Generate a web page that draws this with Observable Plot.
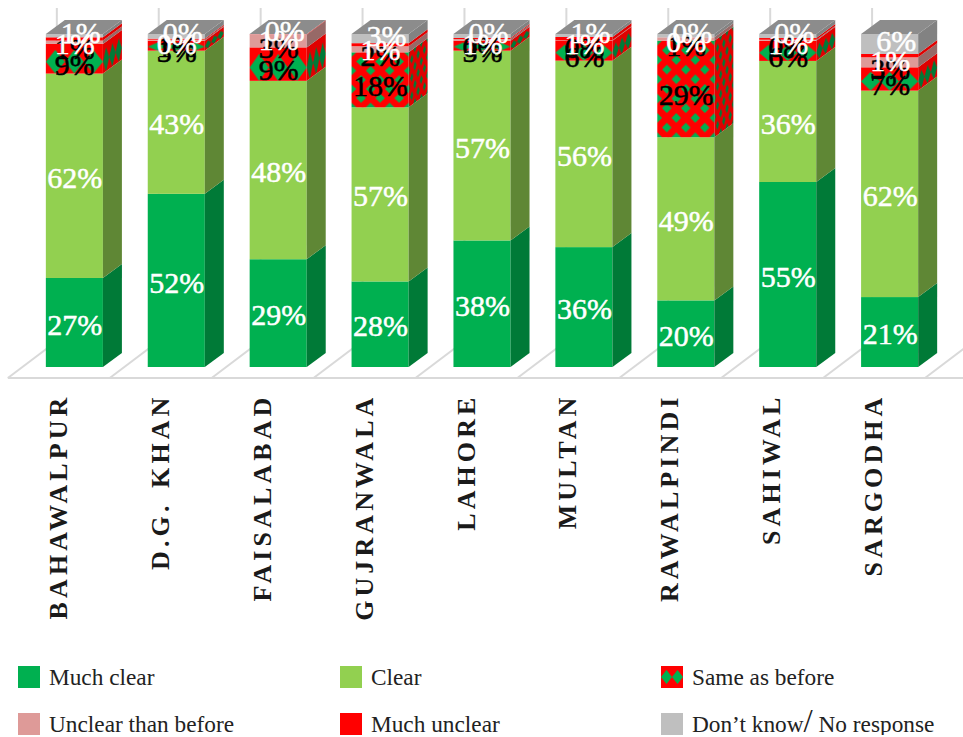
<!DOCTYPE html>
<html>
<head>
<meta charset="utf-8">
<script src="https://cdn.jsdelivr.net/npm/d3@7"></script>
<script src="https://cdn.jsdelivr.net/npm/@observablehq/plot@0.6"></script>
<style>
html,body{margin:0;padding:0;background:#fff;overflow:hidden}
svg{display:block}
#legend{display:grid;grid-template-columns:322px 321px 300px;grid-auto-rows:22px;row-gap:25px;margin:16px 0 0 18px;font:23.3px "Liberation Serif",serif;color:#222}
#legend div{display:flex;align-items:center;white-space:nowrap}
#legend svg{margin-right:9px;flex:none}
#legend .slash{font-size:33px;line-height:0;font-weight:normal}
</style>
</head>
<body>
<div id="chart"></div>
<div id="legend"></div>
<script>
const cities = ["BAHAWALPUR","D.G. KHAN","FAISALABAD","GUJRANWALA","LAHORE","MULTAN","RAWALPINDI","SAHIWAL","SARGODHA"];
const seriesNames = ["Much clear","Clear","Same as before","Unclear than before","Much unclear","Don’t know/ No response"];
const muchClear   = [27,52,29,28,38,36,20,55,21];
const clear       = [62,43,48,57,57,56,49,36,62];
const same        = [9,3,9,18,3,6,29,6,7];
const unclear     = [1,0.3,3.4,2,0.5,0.1,1,0.3,3];
const muchUnclear = [1,0.3,0.1,1,0.3,1,0,0.5,1];
const dontKnow    = [1,1.4,0.1,3,1.2,0.9,1,1.2,6];
const unclearLabels     = [1,1,3,2,0,0,1,0,3];
const muchUnclearLabels = [1,0,1,1,1,1,0,1,1];
const dontKnowLabels    = [1,0,0,3,0,1,0,0,6];

const valueSets = [muchClear,clear,same,unclear,muchUnclear,dontKnow];
const labelSets = [muchClear,clear,same,unclearLabels,muchUnclearLabels,dontKnowLabels];
const frontColors = ["#00B050","#92D050","#FF0000","#DE9A98","#FF0000","#BFBFBF"];
const sideColors  = ["#007A37","#5F8735","#E00000","#976967","#E00000","#828282"];
const labelColors = ["#fff","#fff","#000","#000","#fff","#fff"];
const labelOffsets = [[0,2],[0,2],[0,6],[0,7],[0,5],[6,-3]];
const topColor = "#8C8C8C";

const rows = seriesNames.flatMap((series,s) => cities.map((city,c) => ({
  city, series, value: valueSets[s][c], label: labelSets[s][c] + "%"
})));

const depthX = 19, depthY = 14;
let uid = 0;
function makePattern(parent, {w, h, transform, green, red, single}) {
  const id = "same" + (uid++);
  const p = parent.append("pattern").attr("id", id).attr("patternUnits","userSpaceOnUse")
    .attr("width", w).attr("height", h).attr("patternTransform", transform);
  p.append("rect").attr("width", w).attr("height", h).attr("fill", red);
  const diamond = (cx, cy, rx, ry) => p.append("path").attr("fill", green)
    .attr("d", `M${cx-rx},${cy}L${cx},${cy-ry}L${cx+rx},${cy}L${cx},${cy+ry}Z`);
  if (single) {
    diamond(w/2, h*0.6, w/2, h*0.4);
  } else {
    diamond(w/2, h/2, w/4, h/4);
    for (const [a,b] of [[0,0],[w,0],[0,h],[w,h]]) diamond(a, b, w/4, h/4);
  }
  return `url(#${id})`;
}

function render3d(index, scales, values, dimensions, context, next) {
  const g = d3.select(next(index, scales, values, dimensions, context));
  const defs = g.append("defs");
  g.selectAll("rect").filter(function(){ return this.parentNode.tagName !== "pattern"; }).each(function(i) {
    const rect = d3.select(this), d = rows[i], s = seriesNames.indexOf(d.series);
    const x = +rect.attr("x"), y = +rect.attr("y"), w = +rect.attr("width"), h = +rect.attr("height");
    let sideFill = sideColors[s];
    if (s === 2) {
      const count = Math.max(1, Math.round(h / 19));
      const single = h < 40;
      const th = h / (single ? 1 : count);
      rect.attr("fill", makePattern(defs, {w: w/3, h: th, transform:`translate(${x},${y})`, green:"#00B050", red:"#FF0000", single}));
      sideFill = makePattern(defs, {w: depthX/3, h: th, transform:`translate(${x+w},${y}) skewY(${-Math.atan2(depthY,depthX)*180/Math.PI})`, green:"#007A37", red:"#E00000", single});
    }
    g.append("polygon").attr("fill", sideFill)
      .attr("points", [[x+w,y],[x+w+depthX,y-depthY],[x+w+depthX,y+h-depthY],[x+w,y+h]].join(" "));
    if (s === 5) {
      g.append("polygon").attr("fill", topColor)
        .attr("points", [[x,y],[x+depthX,y-depthY],[x+w+depthX,y-depthY],[x+w,y]].join(" "));
    }
  });
  return g.node();
}

function floor(index, {x, y}, values, {width}) {
  const g = d3.create("svg:g").attr("stroke","#D9D9D9").attr("stroke-width",2).attr("fill","none");
  const base = y(0);
  const step = x(cities[1]) - x(cities[0]);
  g.append("line").attr("x1", x(cities[0]) - 38).attr("x2", width).attr("y1", base + 11).attr("y2", base + 11);
  for (const c of [...cities, null]) {
    const left = c ? x(c) : x(cities[8]) + step;
    g.append("path").attr("d", `M${left-38},${base+11}L${left+11},${base-26}L${left+11},${y(1)-26}`);
  }
  return g.node();
}

const H = 650;
const plot = Plot.plot({
  width:963, height:H, marginLeft:1, marginRight:0, marginTop:34, marginBottom:H-367,
  style:{background:"transparent", overflow:"visible"},
  x:{domain:cities, axis:null, padding:0.44, round:false},
  y:{domain:[0,1], axis:null},
  color:{domain:seriesNames, range:frontColors},
  marks:[
    floor,
    Plot.barY(rows, Plot.stackY({x:"city", y:"value", fill:"series", order:seriesNames, offset:"normalize", render:render3d})),
    ...seriesNames.map((name,s) => Plot.text(rows, Plot.filter(d => d.series === name, Plot.stackY({
      x:"city", y:"value", z:"series", order:seriesNames, offset:"normalize",
      text:"label", fontSize:30,
      fill:labelColors[s], stroke:labelColors[s], strokeWidth:0.5,
      fontFamily:"Liberation Serif, serif", dx:labelOffsets[s][0], dy:labelOffsets[s][1]
    })))),
    Plot.text(cities, {x:d=>d, text:d=>d, frameAnchor:"bottom", rotate:-90, textAnchor:"end", lineAnchor:"bottom",
      dx:-8, dy:26, fontSize:26, fontWeight:"bold", fill:"#1a1a1a", fontFamily:"Liberation Serif, serif"})
  ]
});
d3.select(plot).selectAll("text").filter(function(){ return cities.includes(this.textContent); })
  .attr("letter-spacing","4.1px").attr("word-spacing","3px");
document.getElementById("chart").append(plot);

const legend = d3.select("#legend");
seriesNames.forEach((name,s) => {
  const row = legend.append("div");
  const sw = row.append("svg").attr("width",22).attr("height",22);
  if (s === 2) {
    sw.append("rect").attr("width",22).attr("height",22).attr("fill","#FF0000");
    [[5.5,11],[16.5,11]].forEach(([cx,cy]) => sw.append("path").attr("fill","#00B050")
      .attr("d",`M${cx-5.5},${cy}L${cx},${cy-7}L${cx+5.5},${cy}L${cx},${cy+7}Z`));
  } else {
    sw.append("rect").attr("width",22).attr("height",22).attr("fill",frontColors[s]);
  }
  const span = row.append("span");
  const parts = name.split("/");
  span.append("span").text(parts[0]);
  if (parts.length > 1) {
    span.append("span").attr("class","slash").text("/");
    span.append("span").text(parts[1]);
  }
});
</script>
</body>
</html>
